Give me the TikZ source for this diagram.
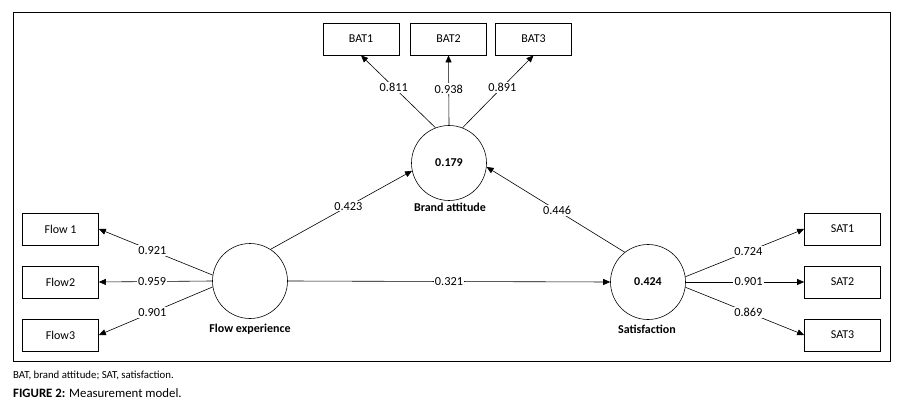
\documentclass[tikz,border=0pt]{standalone}
\usepackage{fontspec}
\setmainfont{Carlito}
\usetikzlibrary{arrows.meta}
\begin{document}
\begin{tikzpicture}[x=1pt,y=-1pt,
  box/.style={draw, line width=0.7pt, minimum width=76pt, minimum height=32pt, inner sep=0pt, font=\fontsize{12}{13}\selectfont},
  lv/.style={draw, circle, line width=0.6pt, minimum size=75pt, inner sep=0pt, font=\bfseries\fontsize{12}{13}\selectfont},
  arr/.style={line width=0.6pt, -{Triangle[length=7pt,width=6pt]}},
  lbl/.style={fill=white, inner sep=1.2pt, font=\fontsize{12.3}{13}\selectfont},
  lvname/.style={font=\bfseries\fontsize{12}{13}\selectfont}]
\useasboundingbox (0,0) rectangle (902,406);
\draw[line width=0.9pt] (13,12) rectangle (890,361);
% indicator boxes
\node[box] (bat1) at (361,39) {BAT1};
\node[box] (bat2) at (448.5,39) {BAT2};
\node[box] (bat3) at (533.5,39) {BAT3};
\node[box] (flow1) at (60.5,229) {Flow 1};
\node[box] (flow2) at (60.5,282) {Flow2};
\node[box] (flow3) at (60.5,335) {Flow3};
\node[box] (sat1) at (842.5,229) {SAT1};
\node[box] (sat2) at (842.5,282) {SAT2};
\node[box] (sat3) at (842.5,335) {SAT3};
% latent variables
\node[lv] (ba) at (449,163) {0.179};
\node[lv] (fe) at (250,281) {};
\node[lv] (sa) at (648,282) {0.424};
\node[lvname] (bal) at (450,207) {Brand attitude};
\node[lvname] (fel) at (250,329) {Flow experience};
\node[lvname] (sal) at (647,329) {Satisfaction};
% loadings
\draw[arr] (ba.111) -- (bat1.south) node[lbl,pos=0.56] (l1) {0.811};
\draw[arr] (ba.north) -- (bat2.south) node[lbl,pos=0.52] (l2) {0.938};
\draw[arr] (ba.69) -- (bat3.south) node[lbl,pos=0.56] (l3) {0.891};
\draw[arr] (fe.171) -- (flow1.east) node[lbl,pos=0.53] (l4) {0.921};
\draw[arr] (fe.west) -- (flow2.east) node[lbl,pos=0.53] (l5) {0.959};
\draw[arr] (fe.189) -- (flow3.east) node[lbl,pos=0.53] (l6) {0.901};
\draw[arr] (sa.8) -- (sat1.west) node[lbl,pos=0.53] (l7) {0.724};
\draw[arr] (sa.east) -- (sat2.west) node[lbl,pos=0.53] (l8) {0.901};
\draw[arr] (sa.-8) -- (sat3.west) node[lbl,pos=0.53] (l9) {0.869};
% structural paths
\draw[arr] (fe.57) -- (ba.192) node[lbl,pos=0.55] (p1) {0.423};
\draw[arr] (sa.128) -- (ba.-6) node[lbl,pos=0.49] (p2) {0.446};
\draw[arr] (fe.east) -- (sa.west) node[lbl,pos=0.5] (p3) {0.321};
% captions
\node[anchor=west, inner sep=0pt, font=\fontsize{10.8}{12}\selectfont] (c1) at (13,375) {BAT, brand attitude; SAT, satisfaction.};
\node[anchor=west, inner sep=0pt, font=\fontsize{12.8}{14}\selectfont] (c2) at (13,393) {\textbf{FIGURE 2:} Measurement model.};
\end{tikzpicture}
\end{document}
